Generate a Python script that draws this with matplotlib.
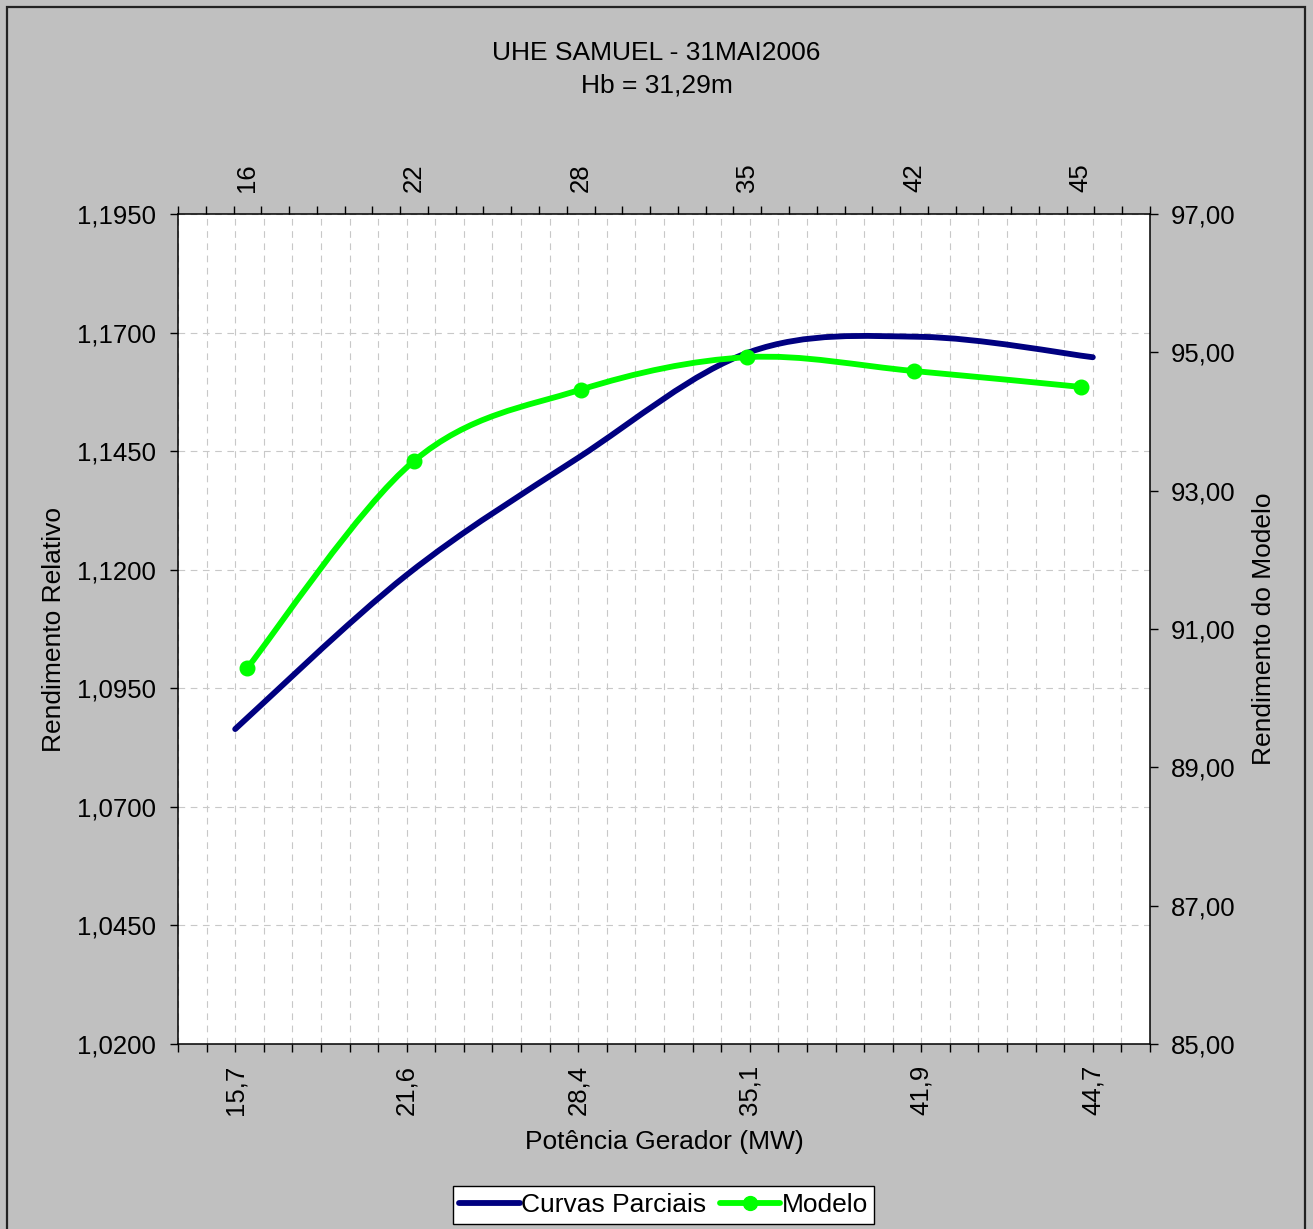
import numpy as np
import matplotlib
matplotlib.use('Agg')
import matplotlib.pyplot as plt
from matplotlib.path import Path
from matplotlib.patches import PathPatch, Rectangle
from matplotlib.lines import Line2D

plt.rcParams['font.family'] = ['Liberation Sans', 'DejaVu Sans']

# data
pot_labels = ['15,7', '21,6', '28,4', '35,1', '41,9', '44,7']   # bottom axis (MW)
pot_idx = [2, 8, 14, 20, 26, 32]                              # category slot on bottom axis
curvas = [1.0864, 1.1189, 1.1436, 1.1659, 1.1691, 1.1648]     # Rendimento Relativo

mod_labels = ['16', '22', '28', '35', '42', '45']             # top axis
mod_idx = [2.5, 8.5, 14.5, 20.5, 26.5, 32.5]
modelo = [90.44, 93.43, 94.46, 94.93, 94.73, 94.50]           # Rendimento do Modelo

left_ticks = [1.02, 1.045, 1.07, 1.095, 1.12, 1.145, 1.17, 1.195]
right_ticks = [85, 87, 89, 91, 93, 95, 97]

BLUE = '#000080'
GREEN = '#00FF00'
GRAY = '#C0C0C0'
FS = 18.5
LW = 4.2


def smooth_path(xs, ys):
    # excel-like smoothed line (bezier through the points)
    pts = np.column_stack([xs, ys]).astype(float)
    n = len(pts)
    verts = [pts[0]]
    codes = [Path.MOVETO]
    for i in range(n - 1):
        p0 = pts[max(i - 1, 0)]
        p1 = pts[i]
        p2 = pts[i + 1]
        p3 = pts[min(i + 2, n - 1)]
        c1 = p1 + (p2 - p0) / 6.0
        c2 = p2 - (p3 - p1) / 6.0
        verts += [c1, c2, p2]
        codes += [Path.CURVE4] * 3
    return Path(verts, codes)


fig = plt.figure(figsize=(13.13, 12.29), dpi=100, facecolor=GRAY)
W, H = 1313, 1229
pos = [178 / W, 1 - 1044 / H, 972 / W, 830 / H]

ax = fig.add_axes(pos, facecolor='white')
ax.set_xlim(0, 34)
ax.set_ylim(1.02, 1.195)
ax.set_xticks(range(0, 35))
ax.set_xticklabels([pot_labels[pot_idx.index(i)] if i in pot_idx else '' for i in range(35)],
                   rotation=90, fontsize=FS)
ax.set_yticks(left_ticks)
ax.set_yticklabels([('%.4f' % v).replace('.', ',') for v in left_ticks], fontsize=FS)
ax.tick_params(axis='x', direction='out', length=6, width=1, pad=9)
ax.tick_params(axis='y', direction='out', length=6, width=1, pad=10)
ax.grid(True, color='#C8C8C8', linestyle=(0, (6, 5)), linewidth=0.8)
for s in ax.spines.values():
    s.set_linewidth(1.1)
ax.set_xlabel('Potência Gerador (MW)', fontsize=FS + 0.5, labelpad=11)
ax.set_ylabel('Rendimento Relativo', fontsize=FS + 0.5, labelpad=8)

ax.add_patch(PathPatch(smooth_path(pot_idx, curvas), fill=False, edgecolor=BLUE,
                       linewidth=LW, capstyle='round', joinstyle='round', zorder=3))

# green series: top axis + right axis
ax_g = fig.add_axes(pos, facecolor='none')
ax_g.set_xlim(0, 35)
ax_g.set_ylim(85, 97)
ax_g.xaxis.tick_top()
ax_g.yaxis.tick_right()
ax_g.yaxis.set_label_position('right')
ax_g.set_xticks(range(0, 36))
ax_g.set_xticklabels([])
ax_g.set_xticks(mod_idx, minor=True)
ax_g.set_xticklabels(mod_labels, minor=True, rotation=90, fontsize=FS)
ax_g.tick_params(axis='x', which='major', direction='out', length=6, width=1)
ax_g.tick_params(axis='x', which='minor', length=0, pad=16)
ax_g.set_yticks(right_ticks)
ax_g.set_yticklabels([('%.2f' % v).replace('.', ',') for v in right_ticks], fontsize=FS)
ax_g.tick_params(axis='y', direction='out', length=6, width=1, pad=9)
for s in ax_g.spines.values():
    s.set_visible(False)
ax_g.set_ylabel('Rendimento do Modelo', fontsize=FS + 0.5, labelpad=12)

ax_g.add_patch(PathPatch(smooth_path(mod_idx, modelo), fill=False, edgecolor=GREEN,
                         linewidth=LW, capstyle='round', joinstyle='round', zorder=3))
ax_g.plot(mod_idx, modelo, linestyle='none', marker='o', markersize=10.5,
          color=GREEN, zorder=4)

fig.text(0.5, 1 - 53 / H, 'UHE SAMUEL - 31MAI2006', ha='center', va='center', fontsize=FS + 0.5)
fig.text(0.5, 1 - 86 / H, 'Hb = 31,29m', ha='center', va='center', fontsize=FS + 0.5)

handles = [Line2D([], [], color=BLUE, linewidth=LW, solid_capstyle='round'),
           Line2D([], [], color=GREEN, linewidth=LW, marker='o', markersize=10,
                  solid_capstyle='round')]
leg = fig.legend(handles, ['Curvas Parciais', 'Modelo'], loc='center',
                 bbox_to_anchor=(663.5 / W, 1 - 1205 / H), ncol=2, fontsize=FS + 0.5,
                 frameon=True, fancybox=False, edgecolor='black', framealpha=1,
                 handlelength=2.3, handletextpad=0.05, columnspacing=0.5,
                 borderpad=0.25, borderaxespad=0)
leg.get_frame().set_linewidth(1.0)

# outer chart border
fig.patches.append(Rectangle((7 / W, -0.01), (1305 - 7) / W, 1.01 - 7 / H,
                             transform=fig.transFigure, fill=False,
                             edgecolor='#222222', linewidth=1.6))

fig.savefig('out.png', dpi=100, facecolor=GRAY)
